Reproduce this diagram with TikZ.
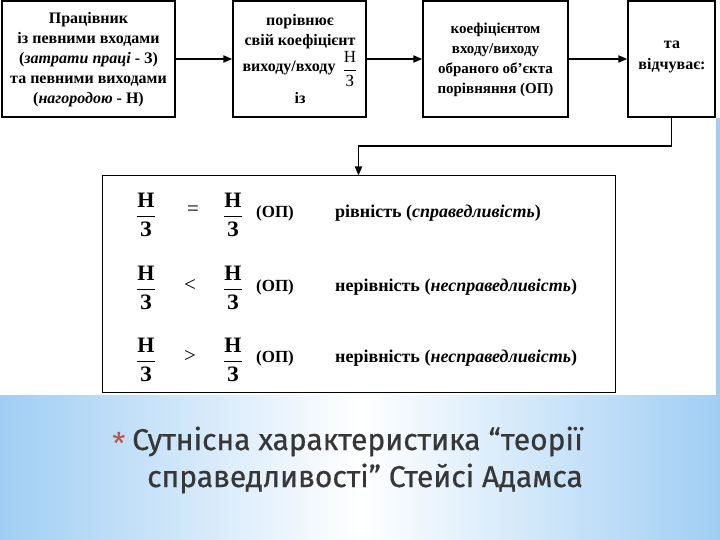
\documentclass[tikz,border=0pt]{standalone}
\usepackage{amsmath}
\usepackage{fontspec}
\setmainfont{Liberation Serif}
\newfontfamily\titlefont[FakeBold=0.6]{Fira Sans}
\newfontfamily\starfont{Fira Sans}
\usetikzlibrary{arrows.meta}
\definecolor{edgeblue}{RGB}{160,206,244}
\definecolor{titlegray}{RGB}{55,55,55}
\definecolor{starred}{RGB}{192,80,77}
\newcommand\HZ{$\genfrac{}{}{1.6pt}{0}{\textbf{Н}}{\textbf{З}}$}
\newcommand\HZs{$\genfrac{}{}{0.9pt}{0}{\textnormal{Н}}{\textnormal{З}}$}
\begin{document}
\begin{tikzpicture}[x=1pt,y=-1pt,
  box/.style={draw,line width=1.3pt,inner sep=0pt},
  conn/.style={line width=1.8pt,-{Triangle[length=9pt,width=7pt]}},
  txt/.style={font=\fontsize{16}{20}\selectfont\bfseries,align=center,inner sep=0pt},
  fracn/.style={font=\fontsize{22}{26}\selectfont\bfseries,inner sep=0pt},
  relsym/.style={font=\fontsize{21}{24}\selectfont,inner sep=0pt},
  opn/.style={font=\fontsize{17}{18}\selectfont\bfseries,inner sep=0pt},
  rowtxt/.style={font=\fontsize{18}{20}\selectfont\bfseries,anchor=west,inner sep=0pt}]
\useasboundingbox (0,0) rectangle (720,540);
\shade[left color=edgeblue,right color=edgeblue,middle color=white] (0,0) rectangle (720,540);
\fill[white] (0,0) rectangle (716,395);
\fill[white] (716,0) rectangle (720,118);

% top boxes
\node[box,minimum width=173pt,minimum height=116pt] (b1) at (88.5,59) {};
\node[box,minimum width=133pt,minimum height=116pt] (b2) at (299.5,59) {};
\node[box,minimum width=145pt,minimum height=116pt] (b3) at (495.5,59) {};
\node[box,minimum width=87pt,minimum height=116pt] (b4) at (671.5,59) {};
\node[draw,line width=1pt,inner sep=0pt,minimum width=513pt,minimum height=216pt] (b5) at (358.5,284) {};

% connectors
\draw[conn] (b1.east) -- (b2.west);
\draw[conn] (b2.east) -- (b3.west);
\draw[conn] (b3.east) -- (b4.west);
\draw[conn] (b4.south) -- ++(0,28) -| (b5.north);

% box texts
\node[txt] (t1) at (88.5,60) {Працівник\\із певними входами\\(\textit{затрати праці} - З)\\та певними виходами\\(\textit{нагородою} - Н)};
\node[txt] (t2a) at (300,22) {порівнює};
\node[txt] (t2b) at (300,42) {свій коефіцієнт};
\node[txt] (t2c) at (289,68) {виходу/входу};
\node[font=\fontsize{17}{20}\selectfont,inner sep=0pt] (t2d) at (350,69) {\HZs};
\node[txt] (t2e) at (300,98) {із};
\node[txt,font=\fontsize{15}{20}\selectfont\bfseries] (t3) at (495.5,60) {коефіцієнтом\\входу/виходу\\обраного об’єкта\\порівняння (ОП)};
\node[txt,font=\fontsize{16}{21}\selectfont\bfseries] (t4) at (672,57) {та\\відчуває:};

% rows
\node[fracn] (r1a) at (146,215) {\HZ};
\node[relsym] (r1s) at (193,211) {=};
\node[fracn] (r1b) at (233,215) {\HZ};
\node[opn] (r1o) at (275,213) {(ОП)};
\node[rowtxt] (r1t) at (335,213) {рівність (\textit{справедливість})};

\node[fracn] (r2a) at (146,288) {\HZ};
\node[relsym] (r2s) at (190,285) {<};
\node[fracn] (r2b) at (233,288) {\HZ};
\node[opn] (r2o) at (275,287) {(ОП)};
\node[rowtxt] (r2t) at (335,287) {нерівність (\textit{несправедливість})};

\node[fracn] (r3a) at (146,360) {\HZ};
\node[relsym] (r3s) at (190,356) {>};
\node[fracn] (r3b) at (233,360) {\HZ};
\node[opn] (r3o) at (275,358) {(ОП)};
\node[rowtxt] (r3t) at (335,358) {нерівність (\textit{несправедливість})};

% title
\node[text=starred,font=\starfont\fontsize{30}{30}\selectfont,inner sep=0pt] (star) at (119,443) {*};
\node[text=titlegray,font=\titlefont\fontsize{30}{37}\selectfont,align=right,anchor=east,inner sep=0pt] (title) at (583,460) {Сутнісна характеристика “теорії\\справедливості” Стейсі Адамса};
\end{tikzpicture}
\end{document}
